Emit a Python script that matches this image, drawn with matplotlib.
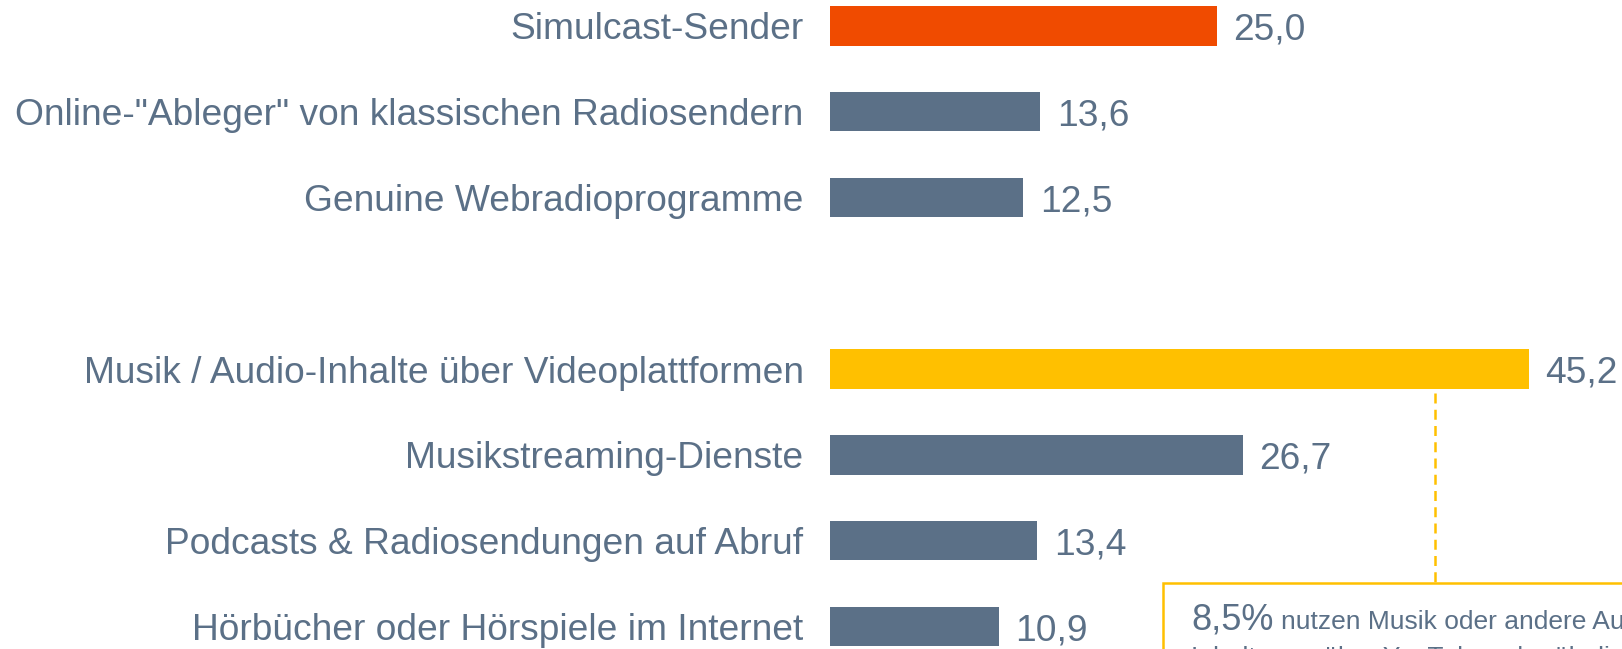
import matplotlib
matplotlib.use("Agg")
import matplotlib.pyplot as plt
from matplotlib.patches import Rectangle

plt.rcParams["font.family"] = ["Liberation Sans", "DejaVu Sans"]

# ── Data ───────────────────────────────────────────────
labels = [
    "Simulcast-Sender",
    'Online-"Ableger" von klassischen Radiosendern',
    "Genuine Webradioprogramme",
    "Musik / Audio-Inhalte über Videoplattformen",
    "Musikstreaming-Dienste",
    "Podcasts & Radiosendungen auf Abruf",
    "Hörbücher oder Hörspiele im Internet",
]
values = [25.0, 13.6, 12.5, 45.2, 26.7, 13.4, 10.9]
positions = [0, 1, 2, 4, 5, 6, 7]
bar_colors = ["#F04B00", "#5B7087", "#5B7087", "#FFC000",
              "#5B7087", "#5B7087", "#5B7087"]
note_big = "8,5%"
note_lines = ["nutzen Musik oder andere Audio-",
              "Inhalte nur über YouTube oder ähnliche Plattformen"]

TXT = "#5B7087"
YEL = "#FFC000"
FS = 26.7

W, H, DPI = 1622, 649, 100
fig = plt.figure(figsize=(W / DPI, H / DPI), dpi=DPI)
fig.patch.set_facecolor("white")
ax = fig.add_axes([830 / W, 0, 1 - 830 / W, 1])
ax.set_xlim(0, (W - 830) / 15.46)
ax.set_ylim(7.262, -0.302)

ax.barh(positions, values, height=0.458, color=bar_colors, zorder=2)

for p, v in zip(positions, values):
    ax.annotate(f"{v:.1f}".replace(".", ","), (v, p), xytext=(12, 0),
                textcoords="offset points", ha="left", va="center_baseline",
                fontsize=FS, color=TXT)

ax.set_yticks(positions)
ax.set_yticklabels(labels, fontsize=FS, color=TXT, va="center_baseline")
ax.tick_params(axis="y", length=0, pad=19)
ax.set_xticks([])
for s in ax.spines.values():
    s.set_visible(False)
ax.patch.set_alpha(0)

# callout: dashed connector + box
px = lambda x: x / W
py = lambda y: 1 - y / H
fig.add_artist(plt.Line2D([px(1435), px(1435)], [py(393), py(583)],
                          color=YEL, lw=1.8, ls=(0, (4, 2.5))))
fig.add_artist(Rectangle((px(1163), py(700)), px(600), py(583) - py(700),
                         facecolor="white", edgecolor=YEL, lw=1.8,
                         transform=fig.transFigure, zorder=3))
big = fig.text(px(1191), py(629), note_big, fontsize=26, color=TXT,
               ha="left", va="baseline", zorder=4)
r = fig.canvas.get_renderer()
bb = big.get_window_extent(r)
fig.text(bb.x1 / W + px(8), py(629), note_lines[0], fontsize=19, color=TXT,
         ha="left", va="baseline", zorder=4)
fig.text(px(1191), py(665), note_lines[1], fontsize=19, color=TXT,
         ha="left", va="baseline", zorder=4)

fig.savefig("out.png", dpi=DPI, facecolor="white")
